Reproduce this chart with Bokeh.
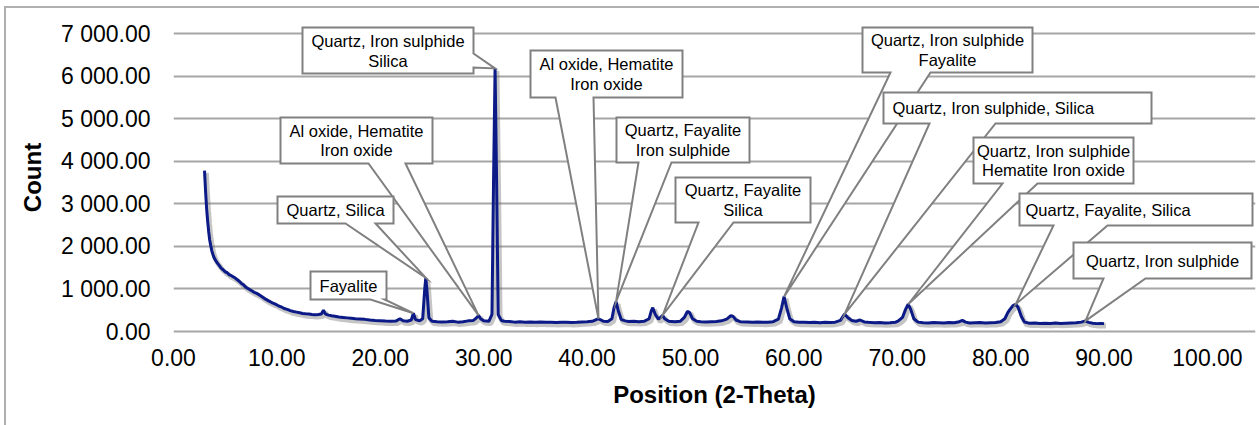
from bokeh.plotting import figure
from bokeh.models import Range1d, FixedTicker
from bokeh.transform import dodge
from bokeh.core.properties import value
from bokeh.embed import file_html
from bokeh.resources import INLINE

# ---------------- data ----------------
two_theta = [3.0, 3.1, 3.2, 3.3, 3.4, 3.5, 3.6, 3.7, 3.8, 3.9, 4.0, 4.2, 4.4, 4.6, 4.8,
             5.0, 5.2, 5.4, 5.6, 5.8, 6.0, 6.2, 6.4, 6.6, 6.8, 7.0, 7.2, 7.4, 7.6, 7.8,
             8.0, 8.3, 8.6, 8.9, 9.2, 9.5, 9.8, 10.1, 10.4, 10.7, 11.0, 11.3, 11.6, 11.9,
             12.2, 12.5, 12.8, 13.1, 13.4, 13.7, 14.0, 14.3, 14.5, 14.7, 15.0, 15.3, 15.6,
             16.0, 16.4, 16.8, 17.2, 17.6, 18.0, 18.5, 19.0, 19.5, 20.0, 20.5, 21.0, 21.5,
             21.9, 22.2, 22.6, 23.0, 23.2, 23.4, 23.8, 24.1, 24.3, 24.4, 24.5, 24.7, 25.0,
             25.5, 26.0, 26.5, 27.0, 27.5, 28.0, 28.5, 29.0, 29.3, 29.5, 29.7, 30.0, 30.5,
             30.8, 30.95, 31.1, 31.25, 31.4, 31.7, 32.0, 32.5, 33.0, 33.5, 34.0, 34.5, 35.0,
             35.5, 36.0, 36.5, 37.0, 37.5, 38.0, 38.5, 39.0, 39.5, 40.0, 40.5, 41.1, 41.6,
             42.0, 42.4, 42.6, 42.8, 43.0, 43.3, 43.7, 44.0, 44.5, 45.0, 45.5, 46.0, 46.2,
             46.35, 46.6, 46.9, 47.1, 47.3, 47.5, 47.9, 48.5, 49.0, 49.4, 49.7, 49.9, 50.2,
             50.6, 51.0, 51.5, 52.0, 52.5, 53.0, 53.5, 53.9, 54.1, 54.4, 54.8, 55.5, 56.0,
             56.5, 57.0, 57.5, 58.0, 58.5, 58.8, 59.05, 59.3, 59.6, 60.0, 60.5, 61.0, 61.5,
             62.0, 62.5, 63.0, 63.5, 64.0, 64.5, 64.9, 65.2, 65.6, 66.0, 66.4, 66.8, 67.2,
             67.8, 68.3, 68.8, 69.3, 69.8, 70.1, 70.5, 70.8, 71.05, 71.3, 71.6, 72.0, 72.5,
             73.0, 73.5, 74.0, 74.5, 75.0, 75.5, 76.0, 76.3, 76.6, 77.0, 77.5, 78.0, 78.5,
             79.0, 79.5, 80.0, 80.4, 80.7, 80.9, 81.2, 81.45, 81.7, 82.0, 82.3, 82.8, 83.3,
             83.8, 84.3, 84.8, 85.3, 85.8, 86.3, 86.8, 87.3, 87.8, 88.2, 88.5, 88.9, 89.3,
             89.7, 90.0]
counts = [3780, 3300, 2900, 2600, 2350, 2150, 2020, 1900, 1820, 1750, 1700, 1620, 1560, 1490, 1450,
          1400, 1380, 1330, 1310, 1280, 1250, 1210, 1170, 1120, 1090, 1040, 1010, 980, 950, 920,
          900, 860, 810, 760, 720, 680, 650, 610, 580, 540, 520, 490, 470, 455,
          440, 425, 415, 410, 400, 395, 400, 410, 500, 410, 385, 370, 360,
          340, 330, 320, 310, 300, 295, 285, 270, 260, 255, 245, 240, 245,
          300, 250, 240, 270, 430, 280, 250, 300, 1000, 1260, 1000, 320, 240,
          230, 225, 230, 240, 220, 230, 250, 260, 320, 380, 300, 250, 240,
          400, 3500, 6180, 3500, 400, 260, 240, 235, 220, 230, 220, 225, 215,
          225, 215, 220, 210, 215, 220, 210, 215, 225, 230, 240, 300, 240,
          235, 300, 550, 700, 500, 280, 250, 235, 240, 230, 240, 300, 480,
          560, 400, 290, 330, 380, 300, 240, 230, 240, 330, 470, 450, 300,
          240, 230, 225, 230, 235, 250, 290, 370, 360, 270, 230, 225, 220,
          225, 215, 220, 230, 290, 550, 820, 560, 300, 230, 215, 220, 210,
          215, 205, 215, 210, 220, 260, 410, 330, 260, 240, 270, 225, 215,
          205, 210, 200, 205, 215, 250, 330, 520, 640, 520, 300, 220, 205,
          200, 210, 205, 200, 210, 205, 230, 260, 220, 200, 205, 210, 200,
          205, 210, 230, 300, 450, 520, 610, 640, 560, 350, 220, 195, 200,
          190, 195, 190, 200, 190, 195, 200, 205, 220, 250, 215, 195, 185,
          190, 185]

x_ticks = [0, 10, 20, 30, 40, 50, 60, 70, 80, 90, 100]
y_ticks = [0, 1000, 2000, 3000, 4000, 5000, 6000, 7000]

callout_texts = ["Quartz, Iron sulphide\nSilica",
                 "Al oxide, Hematite\nIron oxide",
                 "Quartz, Silica",
                 "Fayalite",
                 "Al oxide, Hematite\nIron oxide",
                 "Quartz, Fayalite\nIron sulphide",
                 "Quartz, Fayalite\nSilica",
                 "Quartz, Iron sulphide\nFayalite",
                 "Quartz, Iron sulphide, Silica",
                 "Quartz, Iron sulphide\nHematite Iron oxide",
                 "Quartz, Fayalite, Silica",
                 "Quartz, Iron sulphide"]
callout_peaks = [31.1, 29.5, 24.4, 23.2, 41.1, 42.8, 47.3, 59.05, 64.9, 71.05, 81.45, 88.2]

# ---------------- layout (canvas pixels) ----------------
OX, OY = 173.0, 331.0          # canvas pixel of (0, 0)
SX = 10.34                     # px per degree
SY = 298.0 / 7000.0            # px per count
FIG_W, FIG_H = 1259, 425
FRAME_L, FRAME_R, FRAME_T, FRAME_B = 173, 1255, 20, 334

# box (x0, y0, x1, y1), wedge side, wedge (a, b), text x, text y, align
callout_layout = [
    ((302, 27, 473, 73), "right", (53, 67), 387.5, 50.5, "center"),
    ((280, 117, 432, 163), "bottom", (368, 405), 356, 140, "center"),
    ((277, 196, 393, 223), "bottom", (345, 375), 335, 209.5, "center"),
    ((310, 271, 386, 299), "bottom", (370, 384), 348, 285, "center"),
    ((530, 50, 682, 97), "bottom", (555, 593), 606, 73.5, "center"),
    ((616, 117, 749, 162), "bottom", (638, 671), 682.5, 139.5, "center"),
    ((675, 177, 810, 222), "bottom", (698, 733), 742.5, 199.5, "center"),
    ((862, 27, 1032, 72), "bottom", (890, 930), 947, 49.5, "center"),
    ((883, 92, 1151, 123), "bottom", (929, 995), 892, 107.5, "left"),
    ((973, 137, 1133, 183), "bottom", (1002, 1037), 1053, 160, "center"),
    ((1019, 193, 1252, 225), "bottom", (1053, 1107), 1025, 209, "left"),
    ((1073, 242, 1251, 278), "bottom", (1103, 1145), 1162, 260, "center"),
]


def dx(px):
    return (px - OX) / SX


def dy(py):
    return (OY - py) / SY


FONT = "Liberation Sans"

p = figure(width=FIG_W, height=FIG_H,
           min_border_left=FRAME_L, min_border_right=FIG_W - FRAME_R,
           min_border_top=FRAME_T, min_border_bottom=FIG_H - FRAME_B,
           x_range=Range1d(0, dx(FRAME_R)), y_range=Range1d(dy(FRAME_B), dy(FRAME_T)),
           output_backend="svg", toolbar_location=None, tools="")
p.outline_line_color = None
p.background_fill_color = "white"
p.border_fill_color = None
# outer chart border (left and top edges visible in the window)
p.styles = {"background-color": "white",
            "box-shadow": "inset 4px 6px 0 0 #ffffff, inset 6px 8px 0 0 #b0b0b0"}

for ax, ticks in ((p.xaxis[0], x_ticks), (p.yaxis[0], y_ticks)):
    ax.ticker = FixedTicker(ticks=ticks)
    ax.major_label_overrides = {t: f"{t:,.2f}".replace(",", " ") for t in ticks}
    ax.axis_line_color = None
    ax.major_tick_line_color = None
    ax.minor_tick_line_color = None
    ax.major_tick_in = 0
    ax.major_tick_out = 0
    ax.major_label_text_font = FONT
    ax.major_label_text_font_size = "23px"
    ax.major_label_text_color = "black"
    ax.axis_label_text_font = FONT
    ax.axis_label_text_font_size = "24px"
    ax.axis_label_text_font_style = "bold"
    ax.axis_label_text_color = "black"

p.xaxis[0].bounds = (0, 100)
p.yaxis[0].bounds = (0, 7000)
p.xaxis[0].axis_label = "Position (2-Theta)"
p.yaxis[0].axis_label = "Count"
p.xaxis[0].major_label_standoff = 14
p.xaxis[0].axis_label_standoff = 12
p.yaxis[0].major_label_standoff = 23
p.yaxis[0].axis_label_standoff = 12

p.xgrid[0].ticker = FixedTicker(ticks=x_ticks)
p.ygrid[0].ticker = FixedTicker(ticks=y_ticks)
p.xgrid[0].grid_line_color = None
p.ygrid[0].grid_line_color = "#a6a6a6"
p.ygrid[0].grid_line_width = 2
p.ygrid[0].bounds = (0, 100)

src = dict(x=two_theta, y=counts)
# soft shadow under the trace
p.line(x=dodge("x", 0.18), y=dodge("y", -55), source=src, line_color="#6e6e6e",
       line_alpha=0.4, line_width=5)
p.line(x="x", y="y", source=src, line_color="#0b1a86", line_width=3)

for text, peak, (box, side, (a, b), tx, ty, align) in zip(callout_texts, callout_peaks, callout_layout):
    x0, y0, x1, y1 = box
    tip_x = peak
    tip_y = counts[two_theta.index(peak)]
    if side == "right":
        pts = [(dx(x0), dy(y0)), (dx(x1), dy(y0)), (dx(x1), dy(a)), (tip_x, tip_y),
               (dx(x1), dy(b)), (dx(x1), dy(y1)), (dx(x0), dy(y1))]
    else:
        pts = [(dx(x0), dy(y0)), (dx(x1), dy(y0)), (dx(x1), dy(y1)), (dx(b), dy(y1)),
               (tip_x, tip_y), (dx(a), dy(y1)), (dx(x0), dy(y1))]
    pts.append(pts[0])
    p.patch(x=[q[0] for q in pts], y=[q[1] for q in pts], fill_color="white",
            line_color="#808080", line_width=2, line_join="miter")
    p.text(x=[dx(tx)], y=[dy(ty)], text=[text], text_align=align, text_baseline="middle",
           text_font=value(FONT), text_font_size="16.5px", text_color="black",
           text_line_height=1.1)

open("out.html", "w").write(file_html(p, INLINE))
